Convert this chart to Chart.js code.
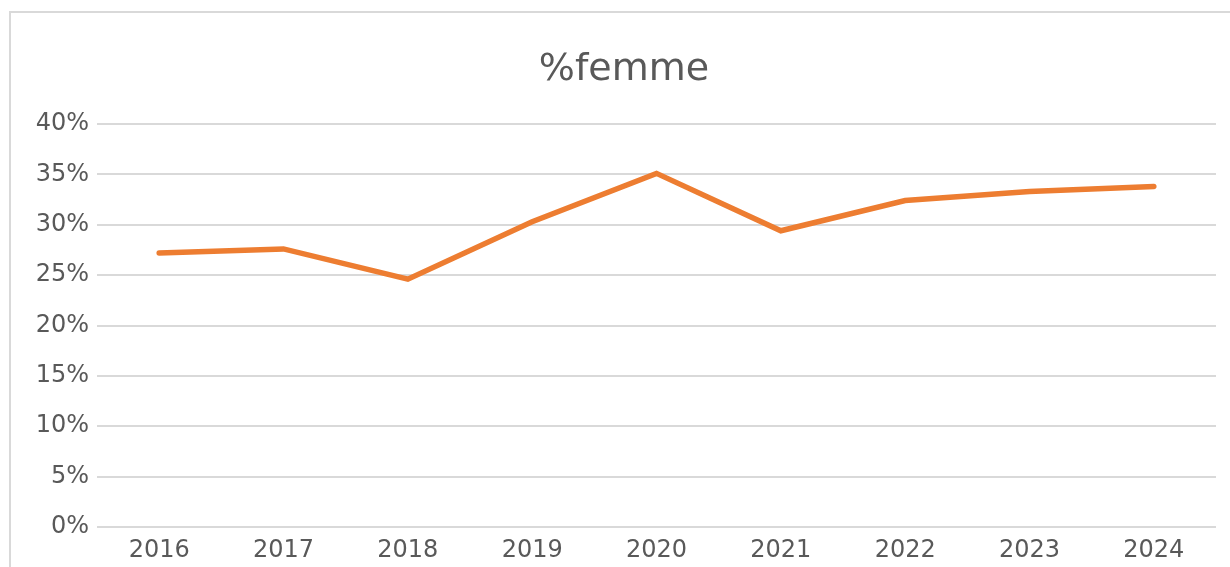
<!DOCTYPE html>
<html>
<head>
<meta charset="utf-8">
<script src="https://cdn.jsdelivr.net/npm/chart.js@4/dist/chart.umd.min.js"></script>
<style>
    html, body { margin: 0; padding: 0; background: #fff; overflow: hidden; }
    #frame { position: absolute; left: 9px; top: 11px; width: 1260px; height: 620px; border: 2px solid #d9d9d9; }
    #wrap { position: absolute; left: 0; top: 0; width: 1230px; height: 567px; }
</style>
</head>
<body>
<div id="frame"></div>
<div id="wrap"><canvas id="femmeChart" width="1230" height="567"></canvas></div>
<script>
const years = ['2016', '2017', '2018', '2019', '2020', '2021', '2022', '2023', '2024'];
const femmePct = [27.2, 27.6, 24.6, 30.3, 35.1, 29.4, 32.4, 33.3, 33.8];
const yTicks = [0, 5, 10, 15, 20, 25, 30, 35, 40];

document.addEventListener('DOMContentLoaded', () => {
    const textColor = '#595959';
    const gridColor = '#d9d9d9';

    const ctx = document.getElementById('femmeChart').getContext('2d');
    const femmeChart = new Chart(ctx, {
        type: 'line',
        data: {
            labels: years,
            datasets: [{
                label: '%femme',
                data: femmePct,
                borderColor: '#ed7d31',
                borderWidth: 5.5,
                pointRadius: 0,
                fill: false,
                tension: 0,
                borderCapStyle: 'round',
                borderJoinStyle: 'miter'
            }]
        },
        options: {
            responsive: false,
            animation: false,
            layout: { padding: { left: 32, right: 14, top: 0, bottom: 0 } },
            plugins: {
                legend: { display: false },
                tooltip: { enabled: false },
                title: {
                    display: true,
                    text: '%femme',
                    color: textColor,
                    font: { family: 'DejaVu Sans', size: 38, weight: 'normal' },
                    padding: { top: 47, bottom: 31.4 }
                }
            },
            scales: {
                x: {
                    offset: true,
                    grid: { display: false, drawTicks: false },
                    border: { display: false },
                    ticks: {
                        color: textColor,
                        font: { family: 'DejaVu Sans', size: 24 },
                        padding: 9,
                        maxRotation: 0
                    },
                    afterFit: scale => { scale.height = 40; }
                },
                y: {
                    min: 0,
                    max: 40,
                    afterBuildTicks: scale => { scale.ticks = yTicks.map(v => ({ value: v })); },
                    grid: { color: gridColor, lineWidth: 2, drawTicks: false },
                    border: { display: false },
                    ticks: {
                        color: textColor,
                        font: { family: 'DejaVu Sans', size: 24, lineHeight: 1.0 },
                        padding: 8,
                        callback: v => v + '%'
                    },
                    afterFit: scale => { scale.width = 65; }
                }
            }
        }
    });
});
</script>
</body>
</html>
